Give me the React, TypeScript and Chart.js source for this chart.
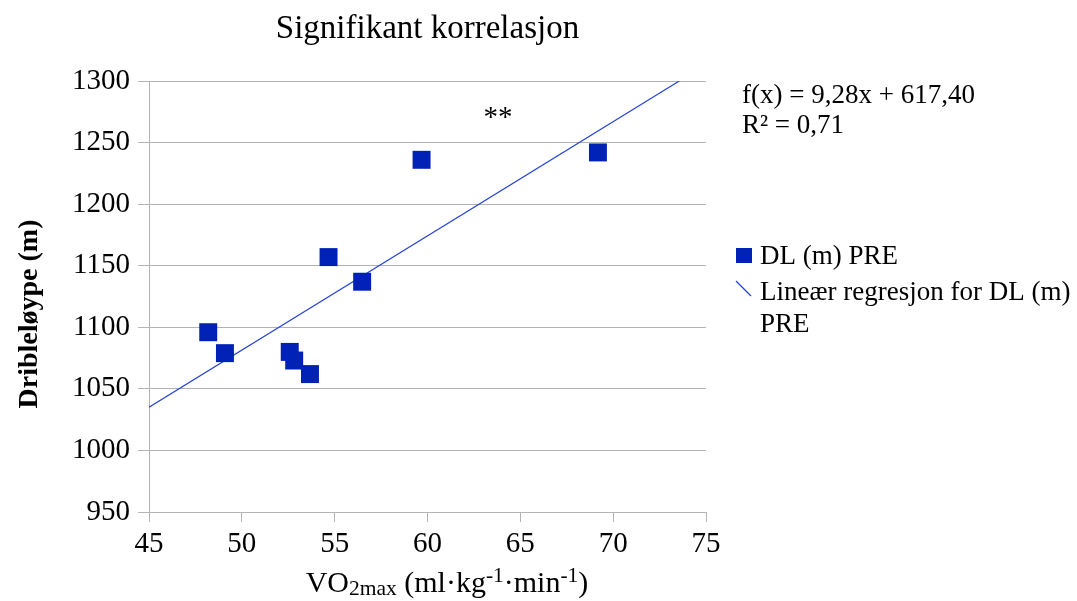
import React, { useEffect, useRef } from "react";
import { Chart, registerables } from "chart.js";

Chart.register(...registerables);

// ---- data ----
const vo2Values = [48.19, 49.09, 52.58, 52.82, 53.67, 54.67, 56.48, 59.68, 69.18];
const dlValues = [1096, 1079, 1080, 1073, 1062, 1157, 1137, 1236, 1242];
const trendX = [45, 73.56];
const trendY = [1035, 1300];
const xTicks = [45, 50, 55, 60, 65, 70, 75];
const yTicks = [950, 1000, 1050, 1100, 1150, 1200, 1250, 1300];

const titleText = "Signifikant korrelasjon";
const yTitleText = "Dribleløype (m)";
const legendPoints = "DL (m) PRE";
const legendLine1 = "Lineær regresjon for DL (m)";
const legendLine2 = "PRE";
const equationText = "f(x) = 9,28x + 617,40";
const r2Text = "R² = 0,71";
const sigText = "**";
const xTitleParts = [
  { t: "VO", k: "n" },
  { t: "2max", k: "sub" },
  { t: " (ml·kg", k: "n" },
  { t: "-1", k: "sup" },
  { t: "·min", k: "n" },
  { t: "-1", k: "sup" },
  { t: ")", k: "n" },
];

const FONT = '"Liberation Serif", "Times New Roman", serif';
const POINT_COLOR = "#0021b5";
const LINE_COLOR = "#2443d6";
const GRID_COLOR = "#b3b3b3";

const decorPlugin = {
  id: "decor",
  afterDraw(chart: any) {
    const ctx = chart.ctx as CanvasRenderingContext2D;
    const area = chart.chartArea;
    ctx.save();
    ctx.fillStyle = "#000";
    // title
    ctx.font = `33px ${FONT}`;
    ctx.textAlign = "center";
    ctx.textBaseline = "alphabetic";
    ctx.fillText(titleText, (area.left + area.right) / 2, 38);

    // y title
    ctx.save();
    ctx.translate(37, 314);
    ctx.rotate(-Math.PI / 2);
    ctx.font = `bold 28px ${FONT}`;
    ctx.textAlign = "center";
    ctx.textBaseline = "alphabetic";
    ctx.fillText(yTitleText, 0, 0);
    ctx.restore();

    // x title with sub/superscripts
    const mainF = `30px ${FONT}`;
    const smallF = `21.5px ${FONT}`;
    let total = 0;
    for (const p of xTitleParts) {
      ctx.font = p.k === "n" ? mainF : smallF;
      total += ctx.measureText(p.t).width;
    }
    let cx = 447 - total / 2;
    const base = 592;
    ctx.textAlign = "left";
    for (const p of xTitleParts) {
      ctx.font = p.k === "n" ? mainF : smallF;
      const dy = p.k === "sub" ? 3 : p.k === "sup" ? -10 : 0;
      ctx.fillText(p.t, cx, base + dy);
      cx += ctx.measureText(p.t).width;
    }

    // significance marker
    ctx.font = `29px ${FONT}`;
    ctx.textAlign = "center";
    ctx.fillText(sigText, 498, 126);

    // equation
    ctx.font = `27px ${FONT}`;
    ctx.textAlign = "left";
    ctx.fillText(equationText, 742, 103);
    ctx.fillText(r2Text, 742, 133);

    // legend
    ctx.fillStyle = POINT_COLOR;
    ctx.fillRect(736, 248, 16, 15);
    ctx.strokeStyle = LINE_COLOR;
    ctx.lineWidth = 1.2;
    ctx.beginPath();
    ctx.moveTo(736, 281);
    ctx.lineTo(751, 296);
    ctx.stroke();
    ctx.fillStyle = "#000";
    ctx.font = `27px ${FONT}`;
    ctx.fillText(legendPoints, 760, 264);
    ctx.fillText(legendLine1, 760, 300);
    ctx.fillText(legendLine2, 760, 332);
    ctx.restore();
  },
};

export default function App() {
  const ref = useRef<HTMLCanvasElement | null>(null);
  useEffect(() => {
    if (!ref.current) return;
    const chart = new Chart(ref.current, {
      type: "scatter",
      data: {
        datasets: [
          {
            label: legendPoints,
            data: vo2Values.map((x, i) => ({ x, y: dlValues[i] })),
            pointStyle: "rect",
            pointRadius: 12.7,
            pointHoverRadius: 12.7,
            backgroundColor: POINT_COLOR,
            borderColor: POINT_COLOR,
            borderWidth: 0,
          },
          {
            type: "line",
            label: legendLine1,
            data: trendX.map((x, i) => ({ x, y: trendY[i] })),
            borderColor: LINE_COLOR,
            borderWidth: 1.2,
            pointRadius: 0,
            showLine: true,
            fill: false,
          } as any,
        ],
      },
      plugins: [decorPlugin],
      options: {
        animation: false,
        responsive: false,
        events: [],
        layout: { padding: { left: 0, right: 371, top: 81, bottom: 0 } },
        plugins: {
          legend: { display: false },
          title: { display: false },
          tooltip: { enabled: false },
        },
        scales: {
          x: {
            type: "linear",
            min: 45,
            max: 75,
            afterFit: (s: any) => {
              s.height = 89;
            },
            afterBuildTicks: (s: any) => {
              s.ticks = xTicks.map((v) => ({ value: v }));
            },
            ticks: {
              font: { family: FONT, size: 29 },
              color: "#000",
              padding: 5,
              maxRotation: 0,
              autoSkip: false,
              callback: (v: any) => String(v),
            },
            grid: {
              drawOnChartArea: false,
              drawTicks: true,
              tickLength: 10,
              color: GRID_COLOR,
            },
            border: { display: true, color: GRID_COLOR },
          },
          y: {
            type: "linear",
            min: 950,
            max: 1300,
            afterFit: (s: any) => {
              s.width = 149;
            },
            afterBuildTicks: (s: any) => {
              s.ticks = yTicks.map((v) => ({ value: v }));
            },
            ticks: {
              font: { family: FONT, size: 29 },
              color: "#000",
              padding: 8,
              autoSkip: false,
              callback: (v: any) => String(v),
            },
            grid: {
              drawOnChartArea: true,
              drawTicks: true,
              tickLength: 11,
              color: GRID_COLOR,
            },
            border: { display: true, color: GRID_COLOR },
          },
        },
      },
    });
    return () => chart.destroy();
  }, []);
  return (
    <div style={{ position: "fixed", left: 0, top: 0, width: 1077, height: 601, background: "#fff" }}>
      <canvas ref={ref} width={1077} height={601} style={{ width: 1077, height: 601, display: "block" }} />
    </div>
  );
}
